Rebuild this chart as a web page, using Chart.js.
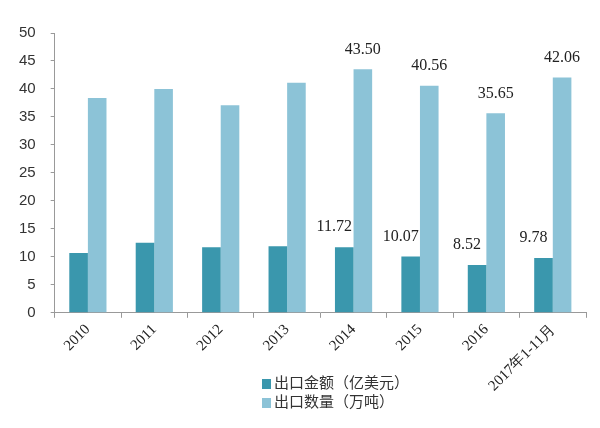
<!DOCTYPE html>
<html>
<head>
<meta charset="utf-8">
<script src="https://cdn.jsdelivr.net/npm/chart.js@4/dist/chart.umd.min.js"></script>
<style>
  body { margin: 0; background: #fff; }
  #wrap { position: relative; width: 600px; height: 428px; }
  #legend { position: absolute; left: 262px; top: 372px; font-family: "Noto Sans CJK SC", sans-serif; font-size: 15px; color: #333; line-height: 19px; }
  #legend span.box { display: inline-block; width: 9px; height: 10px; margin-right: 3px; vertical-align: -1px; }
</style>
</head>
<body>
<div id="wrap">
  <canvas id="barChart" width="600" height="428"></canvas>
  <div id="legend"></div>
</div>
<script>
let years = ["2010", "2011", "2012", "2013", "2014", "2015", "2016", "2017年1-11月"];
let seriesNames = ["出口金额（亿美元）", "出口数量（万吨）"];
let exportValue = [10.7, 12.5, 11.7, 11.9, 11.72, 10.07, 8.52, 9.78];
let exportVolume = [38.4, 40.0, 37.1, 41.1, 43.50, 40.56, 35.65, 42.06];
let yTicks = [0, 5, 10, 15, 20, 25, 30, 35, 40, 45, 50];
let labelFrom = 4; // values are printed only from 2014 on
let colors = ["#3a97ad", "#8cc3d7"];

// value labels above the bars
let valueLabels = {
  id: "valueLabels",
  afterDatasetsDraw(chart) {
    let ctx = chart.ctx;
    ctx.save();
    ctx.font = "16px 'Liberation Serif', serif";
    ctx.fillStyle = "#222";
    ctx.textAlign = "center";
    ctx.textBaseline = "bottom";
    chart.data.datasets.forEach((ds, i) => {
      let meta = chart.getDatasetMeta(i);
      meta.data.forEach((bar, j) => {
        if (j < labelFrom) return;
        let dx = i == 0 ? -10 : 0;
        ctx.fillText(ds.data[j].toFixed(2), bar.x + dx, bar.y - 12);
      });
    });
    ctx.restore();
  },
};

let barChart = document.getElementById("barChart").getContext("2d");

let exportChart = new Chart(barChart, {
  type: "bar",
  data: {
    labels: years,
    datasets: [
      {
        label: seriesNames[0],
        data: exportValue,
        backgroundColor: colors[0],
        categoryPercentage: 0.56,
        barPercentage: 1,
      },
      {
        label: seriesNames[1],
        data: exportVolume,
        backgroundColor: colors[1],
        categoryPercentage: 0.56,
        barPercentage: 1,
      },
    ],
  },
  options: {
    responsive: false,
    animation: false,
    layout: {
      padding: { left: 4, right: 14, top: 33, bottom: 30 },
    },
    plugins: {
      legend: { display: false },
      tooltip: { enabled: false },
    },
    scales: {
      x: {
        grid: { drawOnChartArea: false, drawTicks: true, tickLength: 5, color: "#999" },
        border: { color: "#999" },
        ticks: {
          autoSkip: false,
          minRotation: 45,
          maxRotation: 45,
          color: "#222",
          font: { family: "'Liberation Serif', serif", size: 15 },
        },
      },
      y: {
        min: 0,
        max: 50,
        afterBuildTicks: (axis) => { axis.ticks = yTicks.map((v) => ({ value: v })); },
        grid: { drawOnChartArea: false, drawTicks: true, tickLength: 4, color: "#999" },
        border: { color: "#999" },
        ticks: {
          padding: 15,
          color: "#333",
          font: { family: "'Liberation Sans', sans-serif", size: 15 },
        },
      },
    },
  },
  plugins: [valueLabels],
});

// legend stacked in two rows
let legend = document.getElementById("legend");
seriesNames.forEach((name, i) => {
  let row = document.createElement("div");
  let box = document.createElement("span");
  box.className = "box";
  box.style.background = colors[i];
  row.appendChild(box);
  row.appendChild(document.createTextNode(name));
  legend.appendChild(row);
});
</script>
</body>
</html>
